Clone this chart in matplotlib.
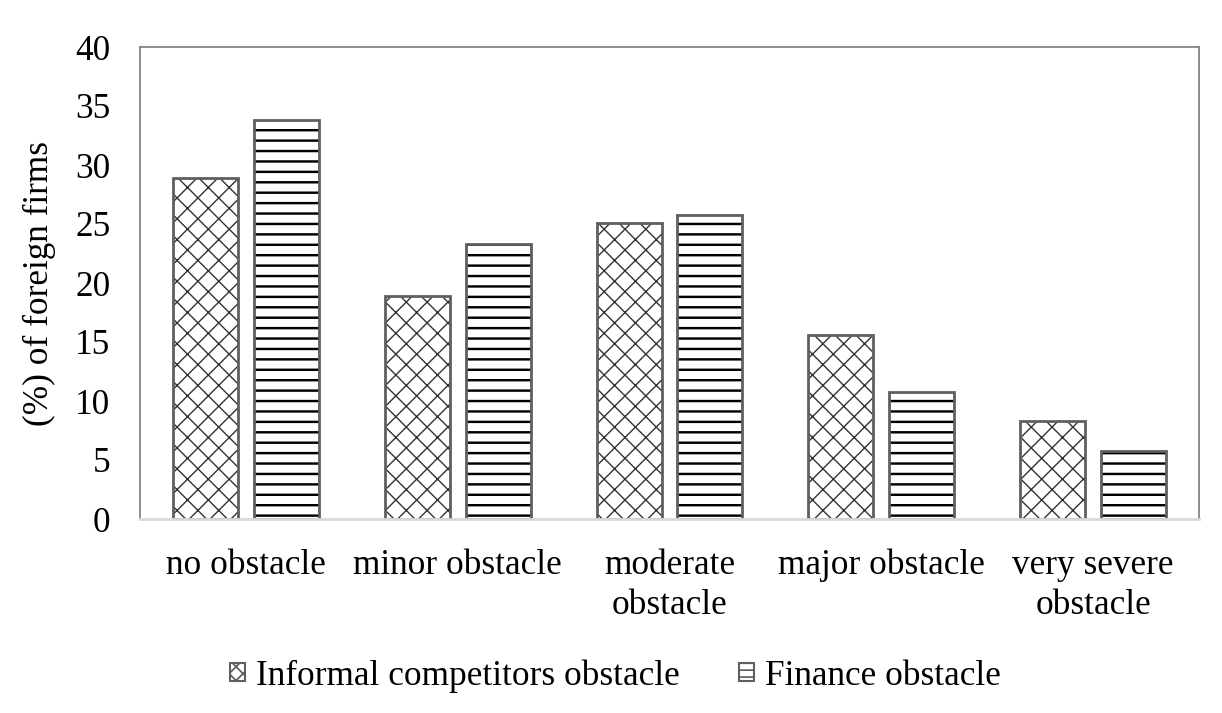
import matplotlib.pyplot as plt
import numpy as np
from matplotlib.patches import Patch

categories = ['no obstacle', 'minor obstacle', 'moderate\nobstacle',
              'major obstacle', 'very severe\nobstacle']
informal = [28.9, 18.9, 25.1, 15.6, 8.3]
finance = [33.8, 23.3, 25.8, 10.8, 5.8]
series_names = ['Informal competitors obstacle', 'Finance obstacle']

plt.rcParams['font.family'] = ['Liberation Serif', 'DejaVu Serif']
fs = 20.3

dpi = 125
fig = plt.figure(figsize=(1222 / dpi, 713 / dpi), dpi=dpi)
ax = fig.add_axes([140 / 1222, 1 - 519 / 713, (1199 - 140) / 1222, (519 - 47) / 713])

ind = np.arange(len(categories))
width = 0.307
off = 0.191
edge = '#5f5f5f'

# hatch drawn in its own colour, outline drawn on top in grey
with plt.rc_context({'hatch.linewidth': 0.8}):
    ax.bar(ind - off, informal, width, color='white', edgecolor='#333333', hatch='xx', linewidth=0)
with plt.rc_context({'hatch.linewidth': 1.4}):
    ax.bar(ind + off, finance, width, color='white', edgecolor='black', hatch='--', linewidth=0)
ax.bar(ind - off, informal, width, fill=False, edgecolor=edge, linewidth=1.6)
ax.bar(ind + off, finance, width, fill=False, edgecolor=edge, linewidth=1.6)

ax.set_xlim(-0.5, len(categories) - 0.5)
ax.set_ylim(0, 40)
ax.set_yticks(np.arange(0, 41, 5))
ax.set_xticks(ind)
ax.set_xticklabels(categories, fontsize=fs, linespacing=1.3)
ax.tick_params(axis='both', length=0, labelsize=fs)
ax.tick_params(axis='x', pad=17)
ax.tick_params(axis='y', pad=17)
ax.set_ylabel('(%) of foreign firms', fontsize=fs, labelpad=11)

for side in ['left', 'top', 'right']:
    ax.spines[side].set_color('#808080')
    ax.spines[side].set_linewidth(1.0)
ax.spines['bottom'].set_color('#d9d9d9')
ax.spines['bottom'].set_linewidth(1.6)

with plt.rc_context({'hatch.linewidth': 0.8}):
    handles = [Patch(facecolor='white', edgecolor=edge, hatch='xxx', linewidth=1.2),
               Patch(facecolor='white', edgecolor=edge, hatch='---', linewidth=1.2)]
fig.legend(handles, series_names, loc='center', bbox_to_anchor=(0.5035, 1 - 676 / 713),
           ncol=2, frameon=False, fontsize=fs, handlelength=0.42, handleheight=0.42,
           handletextpad=0.3, columnspacing=1.7)

fig.savefig('out.png', dpi=dpi, facecolor='white')
